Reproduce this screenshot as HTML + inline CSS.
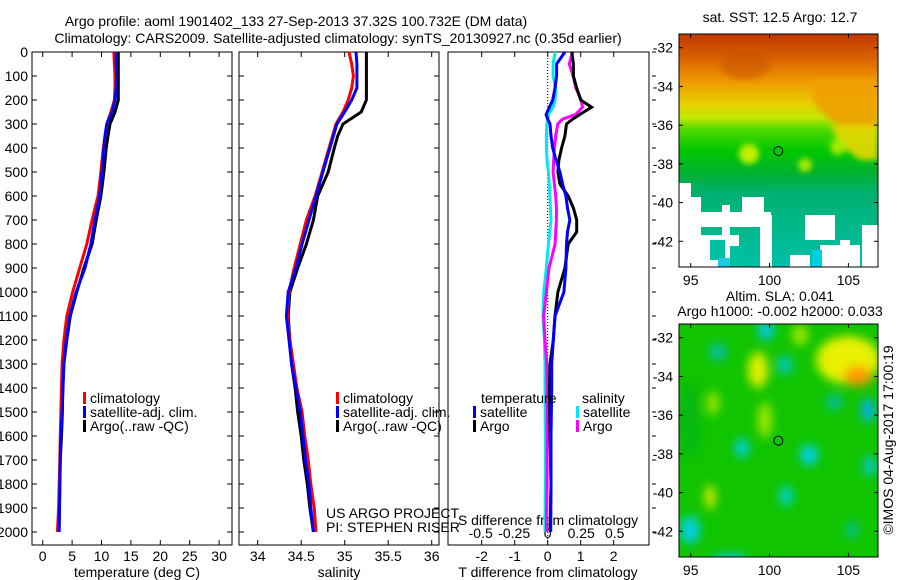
<!DOCTYPE html>
<html><head><meta charset="utf-8"><style>
html,body{margin:0;padding:0;background:#fff;}
svg{display:block;font-family:"Liberation Sans",sans-serif;}
text{font-size:14px;fill:#000;}
</style></head><body>
<svg id="fig" width="900" height="580" viewBox="0 0 900 580">
<text x="296" y="26" text-anchor="middle">Argo profile: aoml 1901402_133 27-Sep-2013 37.32S 100.732E (DM data)</text>
<text x="338" y="43" text-anchor="middle">Climatology: CARS2009. Satellite-adjusted climatology: synTS_20130927.nc (0.35d earlier)</text>
<g id="maps">
<defs>
<linearGradient id="sstg" x1="0" y1="34" x2="0" y2="267" gradientUnits="userSpaceOnUse">
<stop offset="0" stop-color="#c03800"/><stop offset="0.1" stop-color="#d86000"/><stop offset="0.2" stop-color="#f09800"/><stop offset="0.3" stop-color="#e8d000"/><stop offset="0.36" stop-color="#c0e800"/><stop offset="0.41" stop-color="#50d800"/><stop offset="0.5" stop-color="#00c800"/><stop offset="0.6" stop-color="#00b030"/><stop offset="0.68" stop-color="#00b070"/><stop offset="1" stop-color="#00c0a8"/>
</linearGradient>
<filter id="bl" x="-50%" y="-50%" width="200%" height="200%"><feGaussianBlur stdDeviation="5"/></filter>
<filter id="bl2" x="-50%" y="-50%" width="200%" height="200%"><feGaussianBlur stdDeviation="3"/></filter>
<clipPath id="m1"><rect x="679" y="34" width="199" height="233"/></clipPath>
<clipPath id="m2"><rect x="679" y="324" width="199" height="233"/></clipPath>
</defs>
<text x="780" y="22" text-anchor="middle">sat. SST: 12.5 Argo: 12.7</text>
<g clip-path="url(#m1)">
<rect x="679" y="34" width="199" height="233" fill="url(#sstg)"/>
<g filter="url(#bl2)">
<polygon points="810,80 878,80 878,130 850,130 830,120 815,105" fill="#f0a000" opacity="0.9"/>
<polygon points="830,125 878,125 878,160 860,160 840,145" fill="#e8d800" opacity="0.9"/>
<ellipse cx="745" cy="65" rx="25" ry="15" fill="#c85000" opacity="0.5"/>
<ellipse cx="749" cy="154" rx="10" ry="10" fill="#c0f000"/>
<ellipse cx="805" cy="165" rx="7" ry="7" fill="#a0e800"/>
<ellipse cx="838" cy="147" rx="8" ry="8" fill="#a0e800"/>
</g>
<rect x="679" y="183" width="12" height="84" fill="#fff"/>
<rect x="691" y="197" width="10" height="70" fill="#fff"/>
<rect x="722" y="205" width="8" height="30" fill="#fff"/>
<rect x="742" y="197" width="22" height="18" fill="#fff"/>
<rect x="691" y="212" width="80" height="15" fill="#fff"/>
<rect x="679" y="235" width="60" height="32" fill="#fff"/>
<rect x="760" y="215" width="12" height="52" fill="#fff"/>
<rect x="790" y="255" width="20" height="12" fill="#fff"/>
<rect x="805" y="215" width="30" height="25" fill="#fff"/>
<rect x="820" y="245" width="40" height="22" fill="#fff"/>
<rect x="862" y="225" width="16" height="42" fill="#fff"/>
<rect x="840" y="240" width="10" height="10" fill="#fff"/>
<rect x="710" y="240" width="15" height="20" fill="#00c0a0"/>
<rect x="730" y="246" width="12" height="21" fill="#00c0a0"/>
<rect x="718" y="258" width="12" height="9" fill="#20c8e0"/>
<rect x="812" y="250" width="10" height="17" fill="#00d0e0"/>
</g>
<rect x="679" y="34" width="199" height="233" fill="none" stroke="#000"/>
<circle cx="778.3" cy="151" r="4.5" fill="none" stroke="#000"/>
<text x="780" y="301" text-anchor="middle">Altim. SLA: 0.041</text>
<text x="780" y="316" text-anchor="middle">Argo h1000: -0.002 h2000: 0.033</text>
<g clip-path="url(#m2)">
<rect x="679" y="324" width="199" height="233" fill="#10c400"/>
<g filter="url(#bl)">
<ellipse cx="848" cy="360" rx="32" ry="24" fill="#e8f000"/>
<ellipse cx="858" cy="376" rx="14" ry="10" fill="#ff9800"/>
<ellipse cx="758" cy="370" rx="10" ry="18" fill="#e0f000"/>
<ellipse cx="765" cy="420" rx="7" ry="18" fill="#a0e800"/>
<ellipse cx="713" cy="403" rx="6" ry="12" fill="#a0e800"/>
<ellipse cx="710" cy="497" rx="5" ry="12" fill="#e8f000"/>
<ellipse cx="800" cy="335" rx="8" ry="10" fill="#a0e800"/>
<ellipse cx="766" cy="330" rx="8" ry="10" fill="#00c8e8"/>
<ellipse cx="785" cy="365" rx="7" ry="9" fill="#00c8d0"/>
<ellipse cx="718" cy="352" rx="9" ry="9" fill="#00c0a0"/>
<ellipse cx="742" cy="448" rx="7" ry="9" fill="#00d0e8"/>
<ellipse cx="809" cy="455" rx="9" ry="10" fill="#00d0f0"/>
<ellipse cx="786" cy="496" rx="6" ry="10" fill="#00d0e8"/>
<ellipse cx="868" cy="410" rx="7" ry="12" fill="#00b0f0"/>
<ellipse cx="834" cy="402" rx="8" ry="8" fill="#00c0a0"/>
<ellipse cx="870" cy="466" rx="6" ry="10" fill="#00c8e0"/>
<ellipse cx="690" cy="530" rx="10" ry="14" fill="#00d0e0"/>
<ellipse cx="730" cy="560" rx="18" ry="6" fill="#00c8e8"/>
<ellipse cx="852" cy="530" rx="6" ry="8" fill="#00c0a0"/>
<ellipse cx="690" cy="420" rx="10" ry="40" fill="#00b020" opacity="0.6"/>
</g>
</g>
<rect x="679" y="324" width="199" height="233" fill="none" stroke="#000"/>
<circle cx="778.3" cy="440.7" r="4.5" fill="none" stroke="#000"/>
<text transform="translate(893,440) rotate(-90)" text-anchor="middle">©IMOS 04-Aug-2017 17:00:19</text>
</g>
</svg>
<script>
// ---- data ----
const depths = [0,50,100,150,200,250,300,350,400,500,600,700,800,900,1000,1100,1200,1300,1400,1500,1600,1700,1800,1900,2000];
const tempClim = [12.1,12.2,12.3,12.3,12.2,11.6,10.9,10.6,10.3,9.9,9.4,8.4,7.5,6.3,5.1,4.1,3.6,3.3,3.2,3.1,3.0,2.9,2.8,2.7,2.5];
const tempSat  = [12.5,12.5,12.55,12.5,12.3,11.8,10.9,10.6,10.4,10.1,9.7,8.9,8.2,7.2,5.7,4.6,4.0,3.6,3.45,3.3,3.1,3.0,2.9,2.85,2.8];
const tempArgo = [12.85,12.85,12.85,12.85,12.85,12.3,11.45,11.1,10.8,10.4,9.9,9.1,8.4,7.0,5.8,4.7,4.1,3.6,3.4,3.35,3.2,3.0,2.9,2.85,2.75];
const salClim = [35.05,35.08,35.10,35.08,35.04,34.98,34.90,34.86,34.82,34.74,34.66,34.56,34.49,34.42,34.36,34.34,34.37,34.41,34.45,34.51,34.54,34.58,34.61,34.65,34.67];
const salSat  = [35.13,35.14,35.14,35.14,35.08,35.00,34.91,34.87,34.83,34.75,34.67,34.59,34.51,34.44,34.35,34.33,34.36,34.39,34.44,34.49,34.52,34.55,34.59,34.61,34.64];
const salArgo = [35.25,35.25,35.25,35.25,35.25,35.19,34.98,34.92,34.88,34.81,34.69,34.64,34.56,34.46,34.37,34.35,34.37,34.39,34.43,34.46,34.50,34.53,34.57,34.60,34.64];
const diffDepths = [0,50,100,150,200,230,260,280,300,350,400,450,500,550,600,650,700,750,800,900,1000,1100,1200,1300,1400,1600,1800,2000];
const tDiffSat  = [0.52,0.27,0.27,0.22,0.15,0.05,-0.05,0.0,0.07,0.1,0.15,0.25,0.37,0.45,0.55,0.6,0.67,0.6,0.57,0.55,0.49,0.22,0.17,0.12,0.12,0.1,0.1,0.09];
const tDiffArgo = [0.73,0.78,0.78,0.88,1.0,1.33,0.98,0.75,0.57,0.52,0.42,0.34,0.31,0.37,0.62,0.78,0.88,0.88,0.62,0.52,0.31,0.22,0.17,0.07,0.05,0.07,0.1,0.07];
const sDiffSat  = [0.055,0.04,0.04,0.06,0.055,0.04,0.005,0.0,-0.007,-0.01,-0.01,-0.005,0.005,0.012,0.017,0.02,0.025,0.015,0.005,-0.01,-0.03,-0.035,-0.025,-0.02,-0.02,-0.018,-0.018,-0.02];
const sDiffArgo = [0.186,0.161,0.19,0.21,0.25,0.26,0.21,0.11,0.075,0.06,0.05,0.045,0.04,0.05,0.06,0.065,0.065,0.06,0.055,0.01,-0.01,-0.03,-0.02,-0.007,-0.005,-0.004,-0.005,-0.01];
const depthTicks = [0,100,200,300,400,500,600,700,800,900,1000,1100,1200,1300,1400,1500,1600,1700,1800,1900,2000];
const tempTicks = [0,5,10,15,20,25,30];
const salTicks = [34,34.5,35,35.5,36];
const tDiffTicks = [-2,-1,0,1,2];
const sDiffTicks = [-0.5,-0.25,0,0.25,0.5];
const latTicks = [-32,-34,-36,-38,-40,-42];
const lonTicks = [95,100,105];

// ---- scales ----
const NS='http://www.w3.org/2000/svg';
const svg=document.getElementById('fig');
const yD = d => 52 + d*0.24;
const xT = t => 42.7 + 5.88*t;
const xS = s => 257.7 + 87*(s-34);
const xTD = t => 547.7 + 33*t;
const xSD = s => 547.7 + 134*s;
const yLat1 = l => 47.7 + (-32 - l)*19.36;
const yLat2 = l => 337.7 + (-32 - l)*19.36;
const xLon = l => 690.7 + (l-95)*15.77;
function mk(tag, attrs, parent){const e=document.createElementNS(NS,tag);for(const k in attrs)e.setAttribute(k,attrs[k]);(parent||svg).appendChild(e);return e;}
function txt(x,y,s,anchor,parent){const e=mk('text',{x:x,y:y,'text-anchor':anchor||'start'},parent);e.textContent=s;return e;}

const panels=[{x0:32,x1:232,name:'temperature'},{x0:239,x1:439,name:'salinity'},{x0:448,x1:649,name:'difference'}];
panels.forEach((p,i)=>{
  const g=mk('g',{});
  
  
  const r=mk('rect',{x:p.x0,y:52,width:p.x1-p.x0,height:493,fill:'none',stroke:'#000'},g);
  
  
  depthTicks.forEach(d=>{
    if(i<2){mk('line',{x1:p.x0,x2:p.x0+5,y1:yD(d),y2:yD(d),stroke:'#000'},g);}
    if(i<2){mk('line',{x1:p.x1-5,x2:p.x1,y1:yD(d),y2:yD(d),stroke:'#000'},g);}
    else{mk('line',{x1:p.x1+3,x2:p.x1+7,y1:yD(d),y2:yD(d),stroke:'#000'},g);}
  });
});
depthTicks.forEach(d=>{
  const t=txt(28,yD(d)+5,String(d),'end');
  
  
});
function xticks(vals,fx,labelY){
  vals.forEach(v=>{
    const x=fx(v);
    mk('line',{x1:x,x2:x,y1:52,y2:57,stroke:'#000'});
    mk('line',{x1:x,x2:x,y1:540,y2:545,stroke:'#000'});
    const t=txt(x,labelY,String(v),'middle');
    
    
  });
}
xticks(tempTicks,xT,561);
xticks(salTicks,xS,561);
xticks(tDiffTicks,xTD,561);
sDiffTicks.forEach(v=>{
  const t=txt(xSD(v),538,String(v),'middle');
  
  
});
[[137,'temperature (deg C)','temperature-axis-title'],[339,'salinity','salinity-axis-title'],[548,'T difference from climatology','tdiff-axis-title']].forEach(a=>{
  const t=txt(a[0],577,a[1],'middle');
  
  
});
const sd=txt(548,525,'S difference from climatology','middle');



const z=mk('line',{x1:xTD(0),x2:xTD(0),y1:52,y2:545,stroke:'#000','stroke-dasharray':'1,2'});



function series(ds,vals,fx,color,name){
  const pts=ds.map((d,i)=>fx(vals[i]).toFixed(1)+','+yD(d).toFixed(1)).join(' ');
  const l=mk('polyline',{points:pts,fill:'none',stroke:color,'stroke-width':3,'stroke-linejoin':'miter'});
  
  
}
series(depths,tempArgo,xT,'#000','temp-argo-line');
series(depths,tempClim,xT,'#f00','temp-clim-line');
series(depths,tempSat,xT,'#00f','temp-sat-line');
series(depths,salArgo,xS,'#000','sal-argo-line');
series(depths,salClim,xS,'#f00','sal-clim-line');
series(depths,salSat,xS,'#00f','sal-sat-line');
series(diffDepths,sDiffSat,xSD,'#00e8f0','sdiff-sat-line');
series(diffDepths,sDiffArgo,xSD,'#f0f','sdiff-argo-line');
series(diffDepths,tDiffArgo,xTD,'#000','tdiff-argo-line');
series(diffDepths,tDiffSat,xTD,'#00f','tdiff-sat-line');

function legend(x,y,color,label,name){
  const m=mk('rect',{x:x,y:y-10,width:3,height:12,fill:color});
  
  
  const t=txt(x+7,y+1,label);
  
  
}
legend(83,402,'#f00','climatology','legend-climatology');
legend(83,416,'#00f','satellite-adj. clim.','legend-satellite');
legend(83,430,'#000','Argo(..raw -QC)','legend-argo');
legend(336,402,'#f00','climatology','legend-sal-climatology');
legend(336,416,'#00f','satellite-adj. clim.','legend-sal-satellite');
legend(336,430,'#000','Argo(..raw -QC)','legend-sal-argo');
const lt=txt(481,403,'temperature');  
const ls=txt(582,403,'salinity');  
legend(473,416,'#00f','satellite','legend-tdiff-satellite');
legend(473,430,'#000','Argo','legend-tdiff-argo');
legend(576,416,'#00e8f0','satellite','legend-sdiff-satellite');
legend(576,430,'#f0f','Argo','legend-sdiff-argo');
const c1=txt(326,518,'US ARGO PROJECT');  
const c2=txt(326,532,'PI: STEPHEN RISER');  

[[yLat1,34,267,285],[yLat2,324,557,575]].forEach(m=>{
  latTicks.forEach(l=>{
    const y=m[0](l);
    mk('line',{x1:679,x2:683,y1:y,y2:y,stroke:'#000'});
    mk('line',{x1:874,x2:878,y1:y,y2:y,stroke:'#000'});
    const t=txt(673,y+5,String(l),'end');
    
    
  });
  lonTicks.forEach(l=>{
    const x=xLon(l);
    mk('line',{x1:x,x2:x,y1:m[2]-4,y2:m[2],stroke:'#000'});
    mk('line',{x1:x,x2:x,y1:m[1],y2:m[1]+4,stroke:'#000'});
    const t=txt(x,m[3],String(l),'middle');
    
    
  });
});
</script>
</body></html>
